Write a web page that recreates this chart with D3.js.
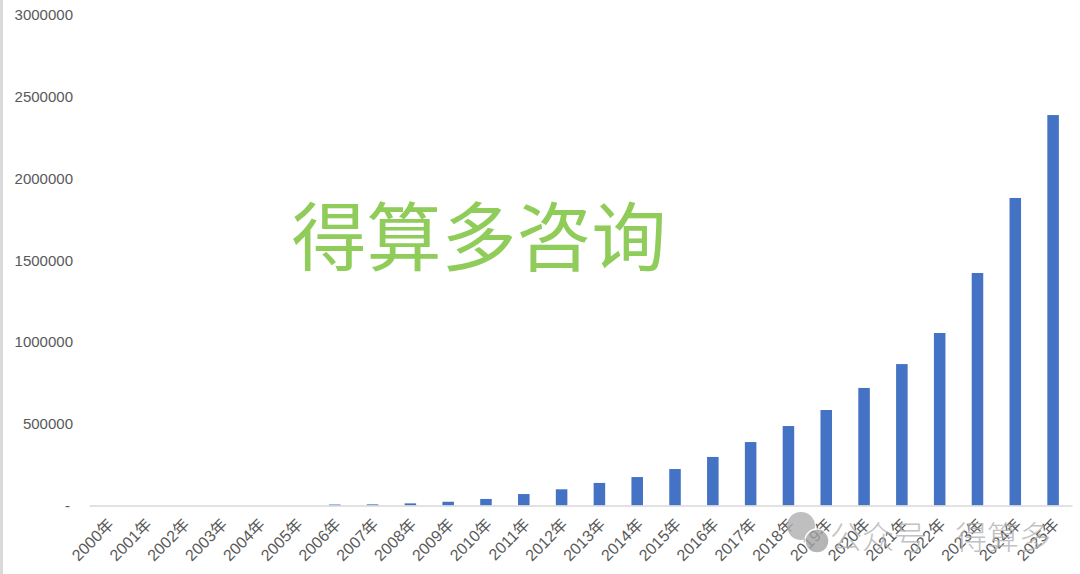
<!doctype html>
<html>
<head>
<meta charset="utf-8">
<script src="https://d3js.org/d3.v7.min.js"></script>
<style>
  body { margin: 0; background: #fff; }
  svg { display: block; }
</style>
</head>
<body>
<script>
// data
var years = ["2000年", "2001年", "2002年", "2003年", "2004年", "2005年", "2006年",
  "2007年", "2008年", "2009年", "2010年", "2011年", "2012年", "2013年", "2014年",
  "2015年", "2016年", "2017年", "2018年", "2019年", "2020年", "2021年", "2022年",
  "2023年", "2024年", "2025年"];
var values = [0, 0, 0, 0, 0, 0, 6000,
  7000, 13000, 23000, 40000, 70000, 99000, 138000, 174000,
  223000, 297000, 388000, 486000, 584000, 719000, 865000, 1055000,
  1422000, 1881000, 2388000];
var yTicks = [0, 500000, 1000000, 1500000, 2000000, 2500000, 3000000];
var watermark = "得算多咨询";

var width = 1080, height = 574;
var margin = {top: 15, right: 8, bottom: 68, left: 89};

var svg = d3.select("body")
  .append("svg")
    .attr("width", width)
    .attr("height", height);

// thin grey frame edge on the left
svg.append("rect")
  .attr("x", 0).attr("y", 0)
  .attr("width", 3).attr("height", height)
  .attr("fill", "#d9d9d9");

var x = d3.scaleBand()
  .domain(years)
  .range([margin.left, width - margin.right])
  .padding(0);

var y = d3.scaleLinear()
  .domain([0, 3000000])
  .range([height - margin.bottom - 0.5, margin.top]);

// y labels (no axis line, no gridlines)
var yAxis = d3.axisLeft(y)
  .tickValues(yTicks)
  .tickSize(0)
  .tickPadding(0)
  .tickFormat(function(d) { return d === 0 ? "-" : d3.format("d")(d); });

var gy = svg.append("g")
  .attr("transform", "translate(73,0)")
  .call(yAxis);
gy.select(".domain").remove();
gy.selectAll("text")
  .attr("fill", "#595959")
  .style("font-family", "'Liberation Sans', 'Noto Sans CJK SC', sans-serif")
  .style("font-size", "15px")
  .attr("dx", function(d) { return d === 0 ? "-3" : "0"; });

// green watermark in the plot
svg.append("text")
  .attr("x", 479)
  .attr("y", 265)
  .attr("text-anchor", "middle")
  .attr("fill", "#8fcc5a")
  .style("font-family", "'Noto Sans CJK SC', sans-serif")
  .style("font-size", "75px")
  .style("font-weight", "400")
  .text(watermark);

// bars
var barW = x.bandwidth() * 0.305;
svg.append("g")
  .selectAll("rect")
  .data(values)
  .join("rect")
    .attr("x", function(d, i) { return x(years[i]) + (x.bandwidth() - barW) / 2; })
    .attr("y", function(d) { return y(d); })
    .attr("width", barW)
    .attr("height", function(d) { return y(0) - y(d); })
    .attr("fill", "#4472c4");

// category axis
var xAxis = d3.axisBottom(x).tickSize(0).tickPadding(0);
var gx = svg.append("g")
  .attr("transform", "translate(0," + y(0) + ")")
  .call(xAxis);
gx.select(".domain")
  .attr("stroke", "#d9d9d9")
  .attr("stroke-width", 1.5);
gx.selectAll("text")
  .attr("fill", "#595959")
  .style("font-family", "'Liberation Sans', 'Noto Sans CJK SC', sans-serif")
  .style("font-size", "16px")
  .attr("text-anchor", "end")
  .attr("dy", "0")
  .attr("y", 0)
  .attr("transform", "translate(7,20) rotate(-45)");

// account watermark, bottom right
var wm = svg.append("g").attr("opacity", 0.8);
wm.append("circle").attr("cx", 801).attr("cy", 526).attr("r", 14).attr("fill", "#b0b0b0");
wm.append("circle").attr("cx", 817).attr("cy", 541).attr("r", 12).attr("fill", "#a3a3a3")
  .attr("stroke", "#fff").attr("stroke-width", 1.5);
wm.append("text")
  .attr("x", 830).attr("y", 549)
  .attr("fill", "#b3b3b3")
  .style("font-family", "'Noto Sans CJK SC', sans-serif")
  .style("font-size", "32px")
  .style("font-weight", "300")
  .text("公众号");
wm.append("text")
  .attr("x", 955).attr("y", 549)
  .attr("fill", "#b3b3b3")
  .style("font-family", "'Noto Sans CJK SC', sans-serif")
  .style("font-size", "32px")
  .style("font-weight", "300")
  .text("得算多");
</script>
</body>
</html>
